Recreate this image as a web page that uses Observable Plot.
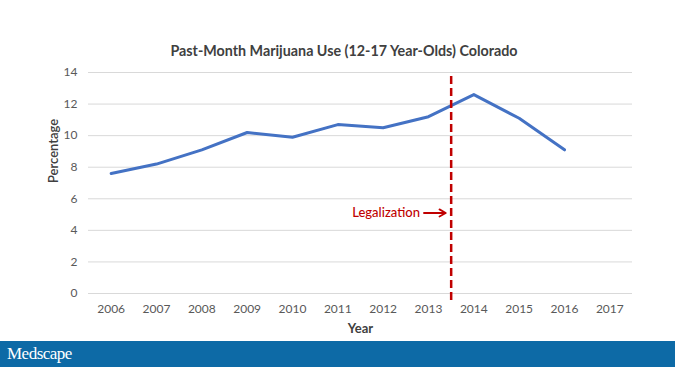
<!DOCTYPE html>
<html>
<head>
<meta charset="utf-8">
<script src="https://cdn.jsdelivr.net/npm/d3@7"></script>
<script src="https://cdn.jsdelivr.net/npm/@observablehq/plot@0.6"></script>
<style>
  html, body { margin: 0; padding: 0; background: #fff; }
  #wrap { position: relative; width: 675px; height: 367px; overflow: hidden; font-family: Lato, "Open Sans", sans-serif; }
  #title { position: absolute; top: 42px; left: 0; width: 688px; text-align: center; font-size: 14.3px; font-weight: bold; color: #404040; }
  #banner { position: absolute; left: 0; top: 341px; width: 675px; height: 26px; background: #0d6aa6; }
  #banner span { position: absolute; left: 7px; top: 3px; font-family: "Liberation Serif", "DejaVu Serif", serif; font-size: 17px; color: #fff; letter-spacing: -0.5px; }
  #chart { position: absolute; left: 0; top: 0; }
</style>
</head>
<body>
<div id="wrap">
  <div id="chart"></div>
  <div id="title">Past-Month Marijuana Use (12-17 Year-Olds) Colorado</div>
  <div id="banner"><span>Medscape</span></div>
</div>
<script>
const years = [2006, 2007, 2008, 2009, 2010, 2011, 2012, 2013, 2014, 2015, 2016];
const percentages = [7.6, 8.2, 9.1, 10.2, 9.9, 10.7, 10.5, 11.2, 12.6, 11.1, 9.1];
const xTicks = [2006, 2007, 2008, 2009, 2010, 2011, 2012, 2013, 2014, 2015, 2016, 2017];
const yTicks = [0, 2, 4, 6, 8, 10, 12, 14];
const legalizationYear = 2013.5;
const legalizationLabel = "Legalization";
const arrowFrom = 2012.9, arrowTo = 2013.38, arrowLevel = 5.1;

const data = years.map((y, i) => ({year: y, pct: percentages[i]}));

const chart = Plot.plot({
  width: 675,
  height: 341,
  marginTop: 72,
  marginBottom: 48,
  marginLeft: 88,
  marginRight: 43,
  style: {fontFamily: "Lato, 'Open Sans', sans-serif", fontSize: "12px", color: "#595959", background: "transparent"},
  x: {domain: [2005.5, 2017.5], ticks: xTicks, tickFormat: "d", tickSize: 0, tickPadding: 11, label: null},
  y: {domain: [0, 14], ticks: yTicks, tickSize: 0, tickPadding: 11, label: null},
  marks: [
    Plot.ruleY(yTicks, {stroke: "#d9d9d9", strokeWidth: 1}),
    Plot.axisX({ticks: xTicks, tickFormat: "d", tickSize: 0, tickPadding: 11, fill: "#595959", fontSize: 12}),
    Plot.axisY({ticks: yTicks, tickSize: 0, tickPadding: 11, fill: "#595959", fontSize: 12}),
    Plot.text(["Percentage"], {frameAnchor: "left", dx: -35, rotate: -90, fontSize: 13, fill: "#404040", fontWeight: 600}),
    Plot.text(["Year"], {frameAnchor: "bottom", dy: 39, dx: 0, fontSize: 13, fill: "#404040", fontWeight: "bold"}),
    Plot.line(data, {x: "year", y: "pct", stroke: "#4472c4", strokeWidth: 3, strokeLinejoin: "round"}),
    Plot.ruleX([legalizationYear], {y1: -0.45, y2: 14, stroke: "#c00000", strokeWidth: 2.5, strokeDasharray: "8,4"}),
    Plot.arrow([{x1: arrowFrom, x2: arrowTo, y: arrowLevel}], {x1: "x1", x2: "x2", y1: "y", y2: "y", stroke: "#c00000", strokeWidth: 1.8, headLength: 6}),
    Plot.text([{x: arrowFrom, y: arrowLevel, t: legalizationLabel}], {x: "x", y: "y", text: "t", textAnchor: "end", dx: -4, fill: "#c00000", fontSize: 13, fontWeight: 500})
  ]
});
document.getElementById("chart").appendChild(chart);
</script>
</body>
</html>
